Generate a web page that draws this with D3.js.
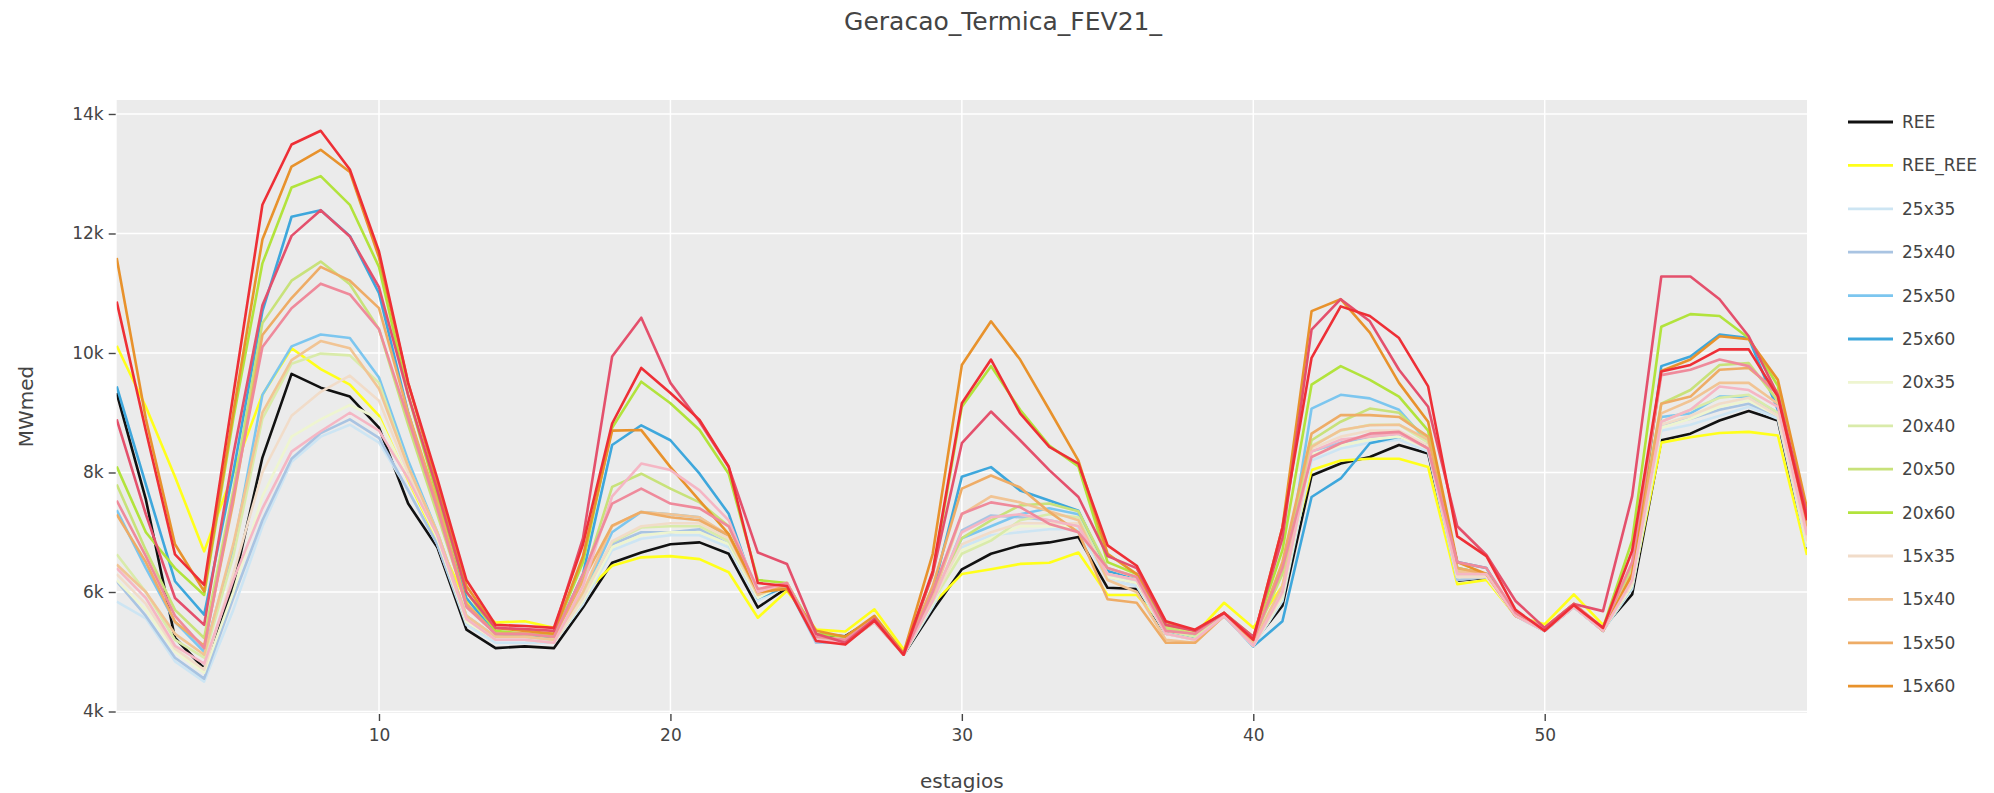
<!DOCTYPE html>
<html>
<head>
<meta charset="utf-8">
<script src="https://cdn.jsdelivr.net/npm/d3@7"></script>
<style>
  html, body { margin: 0; padding: 0; background: #fff; }
  svg { display: block; font-family: "DejaVu Sans", Verdana, sans-serif; }
</style>
</head>
<body>
<svg id="chart" width="1994" height="793"></svg>
<script>
// ---------------- DATA ----------------
const chartTitle = "Geracao_Termica_FEV21_";
const xTitle = "estagios";
const yTitle = "MWmed";
const stages = [1,2,3,4,5,6,7,8,9,10,11,12,13,14,15,16,17,18,19,20,21,22,23,24,25,26,27,28,29,30,31,32,33,34,35,36,37,38,39,40,41,42,43,44,45,46,47,48,49,50,51,52,53,54,55,56,57,58,59];
const xTickValues = [10, 20, 30, 40, 50];
const yTickValues = [4000, 6000, 8000, 10000, 12000, 14000];

const REE = [9328,7550,5230,4720,6100,8250,9650,9420,9270,8750,7480,6750,5370,5060,5090,5060,5740,6490,6660,6800,6830,6640,5740,6070,5290,5260,5560,4950,5690,6380,6640,6780,6830,6920,6070,6050,5300,5240,5600,5150,5770,7950,8150,8260,8460,8320,6190,6240,5650,5380,5760,5400,5960,8540,8650,8870,9030,8870,6700];
const REE_REE = [10120,9100,7930,6680,8000,9300,10080,9730,9470,8950,7870,6860,5850,5490,5510,5400,5960,6440,6580,6600,6550,6330,5570,6020,5370,5340,5710,5040,5800,6300,6380,6470,6490,6660,5950,5950,5400,5300,5820,5400,6100,8040,8200,8230,8230,8090,6130,6200,5600,5460,5960,5450,6100,8500,8590,8660,8680,8620,6620];
const s25x35 = [5840,5560,4840,4500,5700,7100,8180,8600,8800,8500,7700,6800,5450,5150,5150,5150,5800,6700,6890,6950,6950,6750,5850,6100,5150,5150,5500,4950,5750,6750,6950,7000,7050,7050,6200,6100,5300,5200,5600,5100,5850,8200,8400,8500,8550,8350,6200,6250,5600,5350,5750,5350,6050,8700,8800,8950,9100,8900,6750];
const s25x40 = [6180,5600,4900,4550,5900,7200,8230,8660,8890,8580,7700,6800,5500,5200,5200,5150,5850,6800,7000,7000,7050,6800,5900,6100,5150,5150,5500,4950,5800,7030,7280,7250,7200,7100,6250,6150,5300,5200,5600,5100,5900,8350,8500,8600,8650,8400,6200,6250,5600,5350,5750,5350,6100,8800,8900,9050,9150,8950,6800];
const s25x50 = [7370,6400,5500,5000,6700,9300,10110,10310,10250,9590,8200,7000,5600,5250,5250,5200,5950,7000,7340,7300,7250,6900,5950,6100,5200,5150,5500,4950,5850,6900,7100,7300,7400,7300,6300,6200,5300,5250,5600,5090,6000,9070,9300,9240,9050,8500,6400,6300,5600,5350,5750,5350,6200,8930,8990,9270,9270,9000,6900];
const s25x60 = [9440,7800,6180,5620,8000,10700,12280,12390,11960,11000,9000,7400,5900,5300,5250,5250,6300,8460,8790,8540,7980,7310,5900,6100,5200,5180,5550,4950,6000,7930,8090,7700,7530,7360,6350,6200,5350,5250,5600,5090,5510,7590,7900,8490,8600,8450,6500,6400,5600,5350,5750,5350,6100,9780,9940,10310,10250,9050,7000];
const s20x35 = [6200,5700,5000,4650,6000,7600,8600,8890,9130,8900,7900,6900,5500,5200,5200,5150,5850,6750,6950,7000,7000,6800,5900,6150,5200,5150,5500,4950,5800,6700,6900,7100,7100,7100,6250,6150,5300,5200,5600,5100,5900,8300,8450,8550,8600,8400,6250,6250,5600,5350,5750,5350,6100,8750,8900,9100,9200,8950,6800];
const s20x40 = [6630,6000,5200,4900,6600,8900,9820,9990,9960,9500,8100,7000,5600,5250,5250,5200,5950,6830,7080,7100,7100,6850,5950,6150,5250,5200,5550,4950,5850,6640,6860,7200,7300,7250,6300,6200,5350,5250,5650,5150,6000,8450,8700,8800,8800,8500,6300,6300,5600,5400,5800,5400,6200,8850,9050,9250,9300,9000,6900];
const s20x50 = [7800,6700,5700,5230,7700,10500,11210,11530,11150,10400,8800,7300,5800,5300,5300,5250,6200,7760,7980,7730,7500,7100,6000,6150,5250,5200,5550,4960,5900,6900,7200,7450,7480,7350,6400,6250,5400,5300,5650,5200,6300,8540,8850,9070,9000,8550,6350,6300,5650,5400,5800,5400,6400,9150,9380,9800,9830,9200,7000];
const s20x60 = [8100,7000,6400,5950,8900,11500,12770,12960,12480,11440,9300,7600,6000,5350,5300,5300,6500,8750,9520,9160,8710,7980,6200,6150,5300,5250,5550,4960,6300,9100,9780,9050,8450,8100,6500,6300,5450,5350,5650,5250,6700,9470,9780,9550,9270,8700,6400,6300,5600,5400,5780,5400,6860,10440,10650,10620,10250,9450,7000];
const s15x35 = [6300,5800,5050,4700,6300,8000,8950,9350,9620,9200,8000,6950,5550,5200,5200,5150,5900,6850,7100,7150,7150,6900,5950,6150,5200,5150,5500,4950,5850,6800,7000,7150,7150,7150,6300,6200,5300,5200,5600,5100,5950,8400,8600,8700,8700,8450,6250,6250,5600,5350,5750,5350,6150,8800,8950,9150,9250,8950,6850];
const s15x40 = [6460,6000,5300,4950,6800,9000,9880,10200,10080,9400,8100,7000,5600,5250,5250,5200,6000,7100,7340,7300,7250,6950,5950,6150,5250,5200,5550,4950,5900,7300,7600,7500,7350,7200,6200,6000,5200,5150,5600,5150,6100,8430,8710,8790,8800,8550,6350,6300,5600,5400,5800,5400,6300,8990,9200,9500,9500,9150,7000];
const s15x50 = [7300,6500,5500,5100,7500,10300,10920,11440,11210,10750,9000,7500,5800,5300,5300,5250,6200,7110,7340,7250,7200,6950,6000,6100,5200,5150,5500,4950,6100,7730,7950,7750,7340,7000,5880,5820,5150,5150,5600,5200,6500,8650,8960,8960,8930,8600,6400,6300,5600,5400,5800,5350,6300,9150,9270,9720,9750,9350,7100];
const s15x60 = [11590,8900,6800,6010,9000,11900,13120,13400,13030,11600,9500,7800,6100,5400,5350,5300,6600,8700,8710,8090,7530,6970,6000,6050,5350,5250,5600,4980,6640,9800,10530,9890,9050,8200,6640,6300,5500,5350,5650,5200,7080,10700,10900,10340,9500,8850,6500,6300,5600,5400,5800,5350,6300,9700,9890,10280,10230,9550,7400];
const s10x35 = [6400,5900,5100,4800,6200,7400,8350,8690,9000,8700,7900,6950,5550,5200,5200,5150,6100,7600,8150,8040,7700,7200,6000,6150,5200,5150,5500,4950,5850,7000,7250,7300,7200,7100,6300,6200,5300,5200,5600,5100,6000,8350,8550,8600,8650,8400,6300,6300,5600,5350,5750,5350,6200,8850,9050,9440,9380,9100,6950];
const s10x40 = [7530,6600,5600,5060,7600,10100,10750,11160,10980,10400,8900,7400,5750,5300,5300,5250,6300,7480,7730,7480,7400,7100,6050,6150,5250,5200,5550,4950,6000,7310,7500,7420,7140,7000,6400,6250,5350,5300,5650,5200,6400,8260,8490,8650,8680,8400,6500,6400,5650,5400,5800,5400,6500,9630,9720,9890,9780,9300,7200];
const s10x50 = [8890,7300,5900,5450,8300,10800,11960,12390,11950,11100,9300,7700,6000,5400,5380,5350,6900,9940,10590,9500,8850,8090,6660,6470,5300,5150,5550,4950,6300,8490,9020,8540,8040,7590,6600,6400,5450,5350,5650,5250,6900,10390,10900,10530,9720,9100,7100,6620,5850,5400,5800,5680,7600,11280,11280,10900,10280,9300,7300];
const s10x60 = [10860,8700,6630,6120,9300,12480,13490,13720,13070,11700,9500,7900,6200,5450,5430,5400,6800,8820,9750,9330,8880,8100,6150,6100,5180,5120,5520,4950,6350,9160,9890,8990,8430,8150,6780,6440,5510,5370,5650,5200,7080,9920,10780,10620,10250,9440,6930,6600,5700,5350,5780,5400,6690,9690,9800,10060,10060,9270,7200];

const seriesNames = ["REE","REE_REE","25x35","25x40","25x50","25x60","20x35","20x40","20x50","20x60","15x35","15x40","15x50","15x60","10x35","10x40","10x50","10x60"];
const seriesValues = [REE,REE_REE,s25x35,s25x40,s25x50,s25x60,s20x35,s20x40,s20x50,s20x60,s15x35,s15x40,s15x50,s15x60,s10x35,s10x40,s10x50,s10x60];
const seriesColors = ["#111111","#ffff1a","#cde5f3","#a9c4e2","#7cc6ef","#3ea7dc","#eef5d0","#d9ebaa","#c8e27a","#b2e33c","#f1dcc9","#f1c494","#eeac66","#e8922c","#f5b6c4","#ef8a9b","#e4506c","#ee2f36"];

// ---------------- LAYOUT ----------------
const W = 1994, H = 793;
const plot = { left: 116.7, right: 1807, top: 100, bottom: 713 };
const svg = d3.select("#chart");
const txt = "#444444";

const x = d3.scaleLinear().domain([1, 59]).range([plot.left, plot.right]);
const y = d3.scaleLinear().domain([3975, 14234]).range([plot.bottom, plot.top]);

// background
svg.append("rect").attr("x", 0).attr("y", 0).attr("width", W).attr("height", H).attr("fill", "#fff");
svg.append("rect")
  .attr("x", plot.left).attr("y", plot.top)
  .attr("width", plot.right - plot.left).attr("height", plot.bottom - plot.top)
  .attr("fill", "#ebebeb");

// grid
const grid = svg.append("g");
grid.selectAll("line.gy").data(yTickValues).join("line")
  .attr("x1", plot.left).attr("x2", plot.right)
  .attr("y1", d => y(d)).attr("y2", d => y(d))
  .attr("stroke", "#ffffff").attr("stroke-width", 1.5);
grid.selectAll("line.gx").data(xTickValues).join("line")
  .attr("y1", plot.top).attr("y2", plot.bottom)
  .attr("x1", d => x(d)).attr("x2", d => x(d))
  .attr("stroke", "#ffffff").attr("stroke-width", 1.5);

// axes
const yAxis = d3.axisLeft(y).tickValues(yTickValues).tickFormat(d3.format("~s")).tickSize(7).tickPadding(5);
const gy = svg.append("g").attr("transform", `translate(${plot.left - 1},0)`).call(yAxis);
gy.select(".domain").remove();
gy.selectAll(".tick line").attr("stroke", txt).attr("stroke-width", 1.4);
gy.selectAll(".tick text").attr("fill", txt).style("font-size", "17px")
  .style("font-family", "'DejaVu Sans', Verdana, sans-serif");

const xAxis = d3.axisBottom(x).tickValues(xTickValues).tickFormat(d3.format("d")).tickSize(7).tickPadding(8);
const gx = svg.append("g").attr("transform", `translate(0,${plot.bottom + 1})`).call(xAxis);
gx.select(".domain").remove();
gx.selectAll(".tick line").attr("stroke", txt).attr("stroke-width", 1.4);
gx.selectAll(".tick text").attr("fill", txt).style("font-size", "17px")
  .style("font-family", "'DejaVu Sans', Verdana, sans-serif");

// lines
svg.append("clipPath").attr("id", "plotclip").append("rect")
  .attr("x", plot.left).attr("y", plot.top)
  .attr("width", plot.right - plot.left).attr("height", plot.bottom - plot.top);

const line = d3.line().x((d, i) => x(stages[i])).y(d => y(d));
const gl = svg.append("g").attr("clip-path", "url(#plotclip)");
seriesValues.forEach((vals, k) => {
  gl.append("path")
    .datum(vals)
    .attr("d", line)
    .attr("fill", "none")
    .attr("stroke", seriesColors[k])
    .attr("stroke-width", 2.6)
    .attr("stroke-linejoin", "round");
});

// titles
svg.append("text").attr("x", 1003).attr("y", 30).attr("text-anchor", "middle")
  .attr("fill", txt).style("font-size", "25px").text(chartTitle);
svg.append("text").attr("x", (plot.left + plot.right) / 2).attr("y", 788).attr("text-anchor", "middle")
  .attr("fill", txt).style("font-size", "20px").text(xTitle);
svg.append("text").attr("transform", `translate(33,${(plot.top + plot.bottom) / 2}) rotate(-90)`)
  .attr("text-anchor", "middle").attr("fill", txt).style("font-size", "20px").text(yTitle);

// legend: only the entries that fit in the legend box are shown (as in the original)
const legTop = 122, legStep = 43.4, legMaxY = 700;
const legItems = seriesNames.map((name, k) => ({ name, k, cy: legTop + k * legStep }))
  .filter(d => d.cy <= legMaxY);
const leg = svg.append("g");
legItems.forEach(d => {
  leg.append("line").attr("x1", 1848).attr("x2", 1893).attr("y1", d.cy).attr("y2", d.cy)
    .attr("stroke", seriesColors[d.k]).attr("stroke-width", 2.8);
  leg.append("text").attr("x", 1902).attr("y", d.cy).attr("dy", "0.35em")
    .attr("fill", txt).style("font-size", "17px").text(d.name);
});
</script>
</body>
</html>
